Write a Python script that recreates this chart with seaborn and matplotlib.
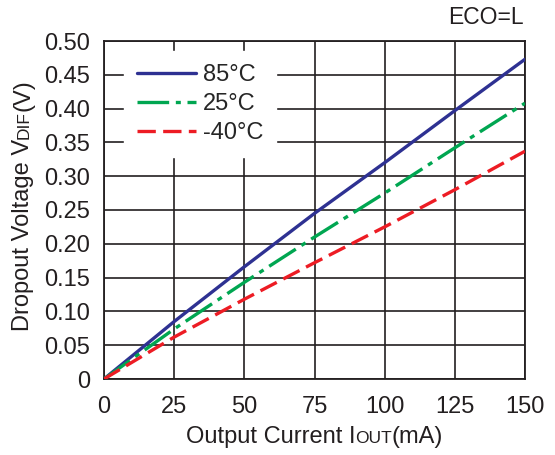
import matplotlib
matplotlib.use("Agg")
import matplotlib.pyplot as plt
import seaborn as sns
import pandas as pd
from matplotlib.offsetbox import TextArea, HPacker, AnchoredOffsetbox

current = [0, 25, 50, 75, 100, 125, 150]
v_85 = [0, 0.085, 0.166, 0.245, 0.320, 0.397, 0.473]
v_25 = [0, 0.074, 0.143, 0.210, 0.275, 0.342, 0.408]
v_m40 = [0, 0.062, 0.118, 0.172, 0.225, 0.280, 0.337]
labels = ["85°C", "25°C", "-40°C"]
x_ticks = [0, 25, 50, 75, 100, 125, 150]
y_ticks = [0, 0.05, 0.10, 0.15, 0.20, 0.25, 0.30, 0.35, 0.40, 0.45, 0.50]
y_tick_labels = ["0", "0.05", "0.10", "0.15", "0.20", "0.25", "0.30", "0.35", "0.40", "0.45", "0.50"]

sns.set_style("white")
plt.rcParams["font.family"] = ["Liberation Sans", "DejaVu Sans"]

W, H = 555, 455
fig = plt.figure(figsize=(W / 100, H / 100), dpi=100)
ax_l, ax_r, ax_t, ax_b = 104, 525, 41, 379
ax = fig.add_axes([ax_l / W, 1 - ax_b / H, (ax_r - ax_l) / W, (ax_b - ax_t) / H])

tc = "#231f20"
FS = 17
colors = ["#2e3192", "#00a651", "#ed1c24"]
styles = ["-", (0, (9.5, 2.0, 1.5, 2.0)), (0, (5.5, 2.2))]
series = [v_85, v_25, v_m40]
for vals, lab, c, ls in zip(series, labels, colors, styles):
    df = pd.DataFrame({"I": current, "V": vals})
    sns.lineplot(data=df, x="I", y="V", ax=ax, color=c, linestyle=ls,
                 linewidth=2.4, label=lab, zorder=3)

ax.set_xlim(0, 150)
ax.set_ylim(0, 0.5)
ax.set_xticks(x_ticks)
ax.set_yticks(y_ticks)
ax.set_yticklabels(y_tick_labels)
ax.tick_params(axis="both", labelsize=FS, length=0, colors=tc)
ax.tick_params(axis="x", pad=12)
ax.tick_params(axis="y", pad=10)
ax.grid(True, color=tc, linewidth=1.2)
for s in ax.spines.values():
    s.set_color(tc)
    s.set_linewidth(1.3)
ax.set_xlabel("")
ax.set_ylabel("")

leg = ax.legend(loc="upper left", bbox_to_anchor=(20 / (ax_r - ax_l), 1 - 10 / (ax_b - ax_t)),
                frameon=True, fontsize=FS, handlelength=2.5, handletextpad=0.3,
                labelspacing=0.3, borderpad=0.55, borderaxespad=0.0)
leg.get_frame().set_facecolor("white")
leg.get_frame().set_edgecolor("white")
leg.get_frame().set_alpha(1)
leg.set_zorder(5)

# x label with small "OUT"
xl = HPacker(children=[
    TextArea("Output Current I", textprops=dict(size=FS, color=tc)),
    TextArea("OUT", textprops=dict(size=12.5, color=tc)),
    TextArea("(mA)", textprops=dict(size=FS, color=tc)),
], align="baseline", pad=0, sep=0)
ab = AnchoredOffsetbox(loc="center", child=xl, pad=0, frameon=False,
                       bbox_to_anchor=(0.5, -(437 - ax_b) / (ax_b - ax_t)),
                       bbox_transform=ax.transAxes, borderpad=0)
ax.add_artist(ab)

fig.text(524 / W, 1 - 18 / H, "ECO=L", ha="right", va="center", fontsize=16.5, color=tc)

# y label: rotated pieces chained along the baseline
fig.canvas.draw()
r = fig.canvas.get_renderer()
pieces = [("Dropout Voltage V", FS), ("DIF", 12.5), ("(V)", FS)]
texts = []
for s, size in pieces:
    t = fig.text(0, 0, s, rotation=90, rotation_mode="anchor", ha="left",
                 va="baseline", fontsize=size, color=tc)
    texts.append(t)
lengths = [t.get_window_extent(r).height for t in texts]
total = sum(lengths)
base_x = 29
center_y = H - 205
y0 = center_y - total / 2
for t, L in zip(texts, lengths):
    t.set_position((base_x / W, y0 / H))
    y0 += L

fig.savefig("out.png", dpi=100)
